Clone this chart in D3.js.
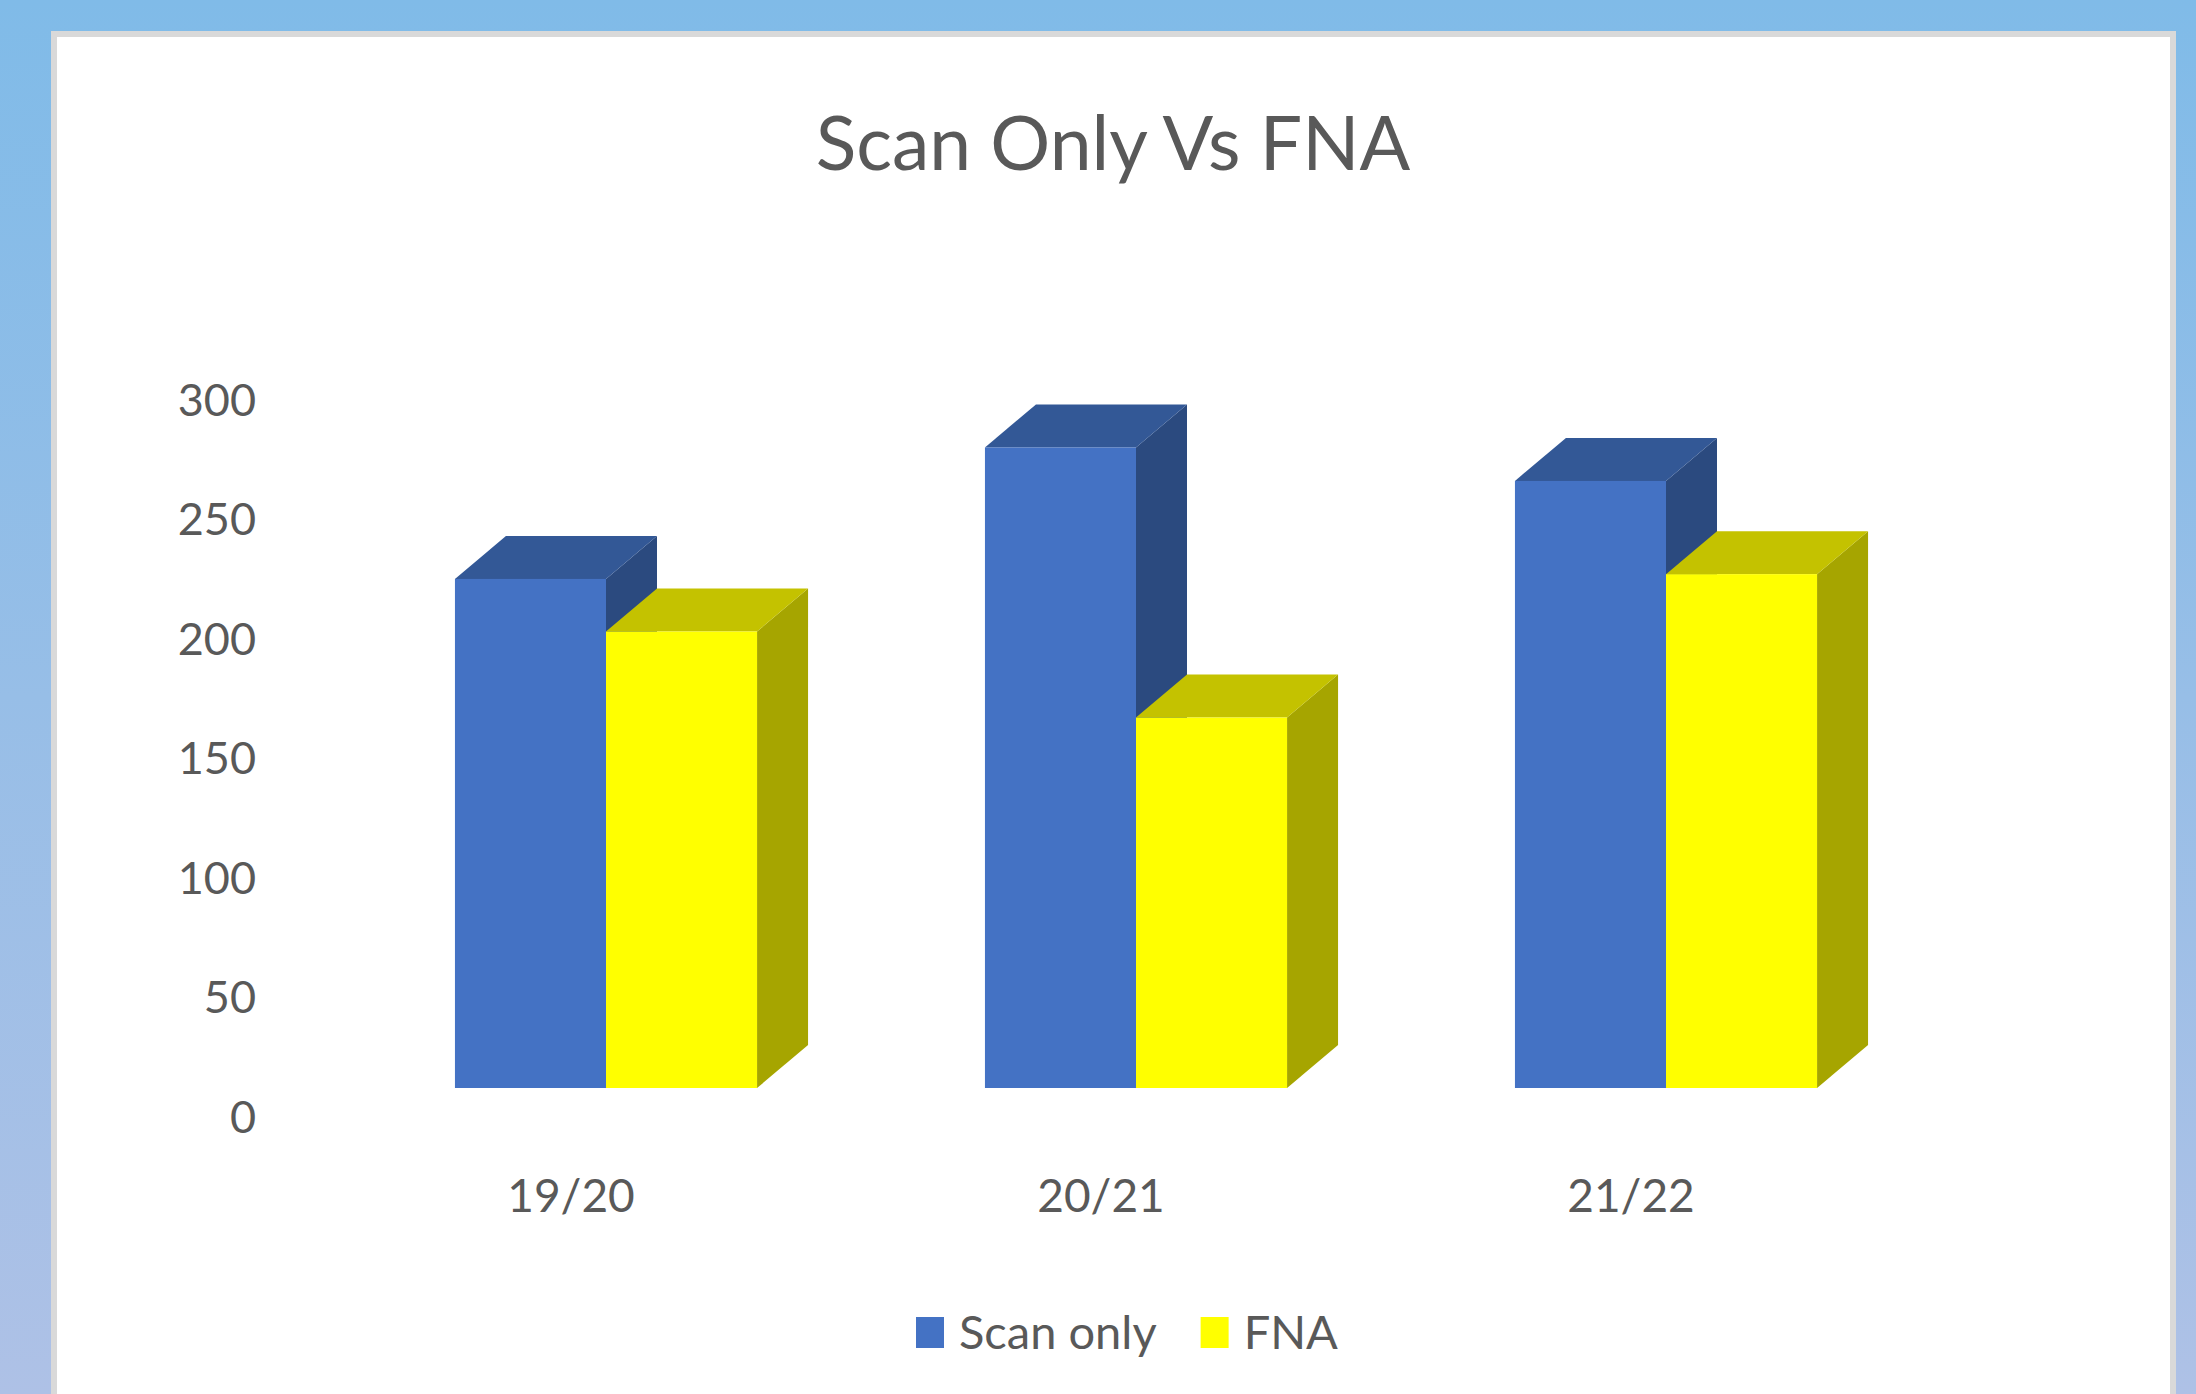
<!DOCTYPE html>
<html>
<head>
<meta charset="utf-8">
<script src="https://cdn.jsdelivr.net/npm/d3@7"></script>
<style>
  body { margin: 0; overflow: hidden; }
  text { font-family: Lato, "Open Sans", sans-serif; fill: #595959; }
</style>
</head>
<body>
<svg id="chart" width="2196" height="1394"></svg>
<script>
// chart data
var categories = ["19/20", "20/21", "21/22"];
var seriesNames = ["Scan only", "FNA"];
var scanOnly = [213, 268, 254];
var fna = [191, 155, 215];
var yTicks = [0, 50, 100, 150, 200, 250, 300];

var values = [scanOnly, fna];
// colours: front, top, side
var colors = [
  { front: "#4472c4", top: "#335896", side: "#2b4a7f" },
  { front: "#ffff00", top: "#c4c200", side: "#a6a500" }
];

var W = 2196, H = 1394;
var svg = d3.select("#chart");

// blue gradient backdrop
var defs = svg.append("defs");
var grad = defs.append("linearGradient").attr("id", "bg")
  .attr("x1", 0).attr("y1", 0).attr("x2", 0).attr("y2", 1);
grad.append("stop").attr("offset", "0%").attr("stop-color", "#80bbe8");
grad.append("stop").attr("offset", "100%").attr("stop-color", "#aec1e6");
svg.append("rect").attr("width", W).attr("height", H).attr("fill", "url(#bg)");

// white chart panel with grey border
svg.append("rect").attr("x", 51).attr("y", 31).attr("width", 2125).attr("height", H)
  .attr("fill", "#d9d9d9");
svg.append("rect").attr("x", 57).attr("y", 37).attr("width", 2113).attr("height", H)
  .attr("fill", "#ffffff");

// 3d depth offset of the bars
var dx = 51, dy = 43;
// the floor front edge sits in front of the bars
var floorX = -35, floorY = 30;

var x0 = d3.scaleBand().domain(categories).range([341, 1931])
  .paddingInner(0.43).paddingOuter(0.215);
var x1 = d3.scaleBand().domain(d3.range(seriesNames.length)).range([0, x0.bandwidth()]);
var y = d3.scaleLinear().domain([0, 300]).range([1088, 1088 - 300 * 2.39]);

// y axis labels
var yAxis = svg.append("g")
  .attr("transform", "translate(256," + floorY + ")")
  .call(d3.axisLeft(y).tickValues(yTicks).tickSize(0).tickPadding(0));
yAxis.select(".domain").remove();
yAxis.selectAll("text")
  .style("font-size", "45px").attr("fill", "#595959")
  .style("font-family", "Lato, 'Open Sans', sans-serif");

// x axis labels
var xAxis = svg.append("g")
  .attr("transform", "translate(" + floorX + ",1212)")
  .call(d3.axisBottom(x0).tickSize(0).tickPadding(0));
xAxis.select(".domain").remove();
xAxis.selectAll("text")
  .attr("dy", 0).attr("y", 0)
  .style("font-size", "46px").attr("fill", "#595959")
  .style("font-family", "Lato, 'Open Sans', sans-serif");

// bars: draw group by group, series left to right so the right bar covers the left's side
var bars = [];
categories.forEach(function (c, i) {
  seriesNames.forEach(function (s, j) {
    bars.push({ cat: c, series: j, value: values[j][i] });
  });
});

var bar = svg.append("g").attr("class", "bars")
  .selectAll("g").data(bars).enter().append("g");

function corners(d) {
  var l = x0(d.cat) + x1(d.series), r = l + x1.bandwidth();
  var t = y(d.value), b = y(0);
  return { l: l, r: r, t: t, b: b };
}

bar.append("path")
  .attr("fill", function (d) { return colors[d.series].side; })
  .attr("d", function (d) {
    var k = corners(d);
    return "M" + k.r + "," + k.b + "L" + k.r + "," + k.t + "L" + (k.r + dx) + "," + (k.t - dy) +
      "L" + (k.r + dx) + "," + (k.b - dy) + "Z";
  });

bar.append("path")
  .attr("fill", function (d) { return colors[d.series].top; })
  .attr("d", function (d) {
    var k = corners(d);
    return "M" + k.l + "," + k.t + "L" + (k.l + dx) + "," + (k.t - dy) + "L" + (k.r + dx) + "," + (k.t - dy) +
      "L" + k.r + "," + k.t + "Z";
  });

bar.append("rect")
  .attr("fill", function (d) { return colors[d.series].front; })
  .attr("x", function (d) { return corners(d).l; })
  .attr("y", function (d) { return corners(d).t; })
  .attr("width", x1.bandwidth())
  .attr("height", function (d) { return y(0) - y(d.value); });

// title
svg.append("text")
  .attr("x", 1113).attr("y", 170)
  .attr("text-anchor", "middle")
  .style("font-size", "75px")
  .text("Scan Only Vs FNA");

// legend
var legend = svg.append("g").attr("transform", "translate(916,1317)");
var lx = 0;
seriesNames.forEach(function (s, j) {
  legend.append("rect").attr("x", lx).attr("y", 0).attr("width", 28).attr("height", 31)
    .attr("fill", colors[j].front);
  var t = legend.append("text").attr("x", lx + 43).attr("y", 32)
    .style("font-size", "47px").text(s);
  lx += 43 + t.node().getComputedTextLength() + 44;
});
</script>
</body>
</html>
